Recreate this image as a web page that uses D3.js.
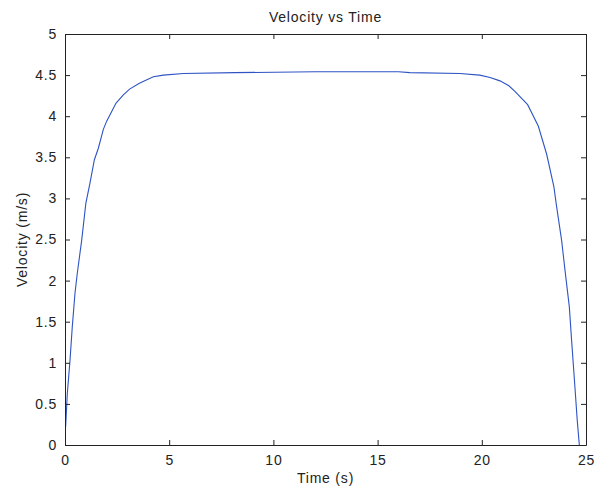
<!DOCTYPE html>
<html><head><meta charset="utf-8">
<script src="https://cdn.jsdelivr.net/npm/d3@7"></script>
<style>body{margin:0;background:#fff;} text{font-family:"Liberation Sans",Arial,sans-serif;fill:#222;}</style>
</head><body><svg id="c" width="596" height="492"></svg>
<script>
const title = "Velocity vs Time";
const xLabel = "Time (s)";
const yLabel = "Velocity (m/s)";
const xTicks = [0,5,10,15,20,25];
const yTicks = [0,0.5,1,1.5,2,2.5,3,3.5,4,4.5,5];
const time = [0.03,0.11,0.24,0.35,0.48,0.59,0.8,1.0,1.2,1.41,1.6,1.84,2.0,2.45,2.8,3.1,3.57,4.24,4.72,5.68,8.16,12,16,16.55,18.95,19.9,20.4,20.87,21.3,21.6,21.9,22.2,22.71,23.11,23.46,23.59,23.83,23.99,24.2,24.31,24.47,24.58,24.68];
const velocity = [0.22,0.62,1.03,1.44,1.85,2.09,2.49,2.94,3.19,3.47,3.61,3.84,3.94,4.16,4.26,4.33,4.40,4.48,4.50,4.52,4.53,4.54,4.54,4.53,4.52,4.50,4.47,4.43,4.37,4.30,4.22,4.14,3.88,3.54,3.14,2.90,2.49,2.13,1.68,1.27,0.70,0.30,0.0];

const svg = d3.select("#c");
const L=65, R=586, T=34, B=445;
const x = d3.scaleLinear().domain([0,25]).range([L,R]);
const y = d3.scaleLinear().domain([0,5]).range([B,T]);

svg.append("rect").attr("x",L).attr("y",T).attr("width",R-L).attr("height",B-T).attr("fill","#fff");

const data = time.map((t,i)=>[t,velocity[i]]);
svg.append("path").datum(data)
  .attr("fill","none").attr("stroke","#2e54c4").attr("stroke-width",1.1)
  .attr("d", d3.line().x(d=>x(d[0])).y(d=>y(d[1])));

const fs = "14px";
const axB = d3.axisBottom(x).tickValues(xTicks).tickSizeInner(-5).tickSizeOuter(0).tickPadding(10).tickFormat(d3.format("~g"));
const axT = d3.axisTop(x).tickValues(xTicks).tickSizeInner(-5).tickSizeOuter(0).tickFormat("");
const axL = d3.axisLeft(y).tickValues(yTicks).tickSizeInner(-5).tickSizeOuter(0).tickPadding(8).tickFormat(d3.format("~g"));
const axR = d3.axisRight(y).tickValues(yTicks).tickSizeInner(-5).tickSizeOuter(0).tickFormat("");

function style(g){
  g.selectAll("path.domain").attr("stroke","#222");
  g.selectAll(".tick line").attr("stroke","#222");
  g.selectAll("text").attr("font-size",fs).attr("letter-spacing","0.8px").attr("font-family","Liberation Sans, Arial, sans-serif").attr("fill","#222");
}
svg.append("g").attr("transform",`translate(0,${B})`).call(axB).call(style);
svg.append("g").attr("transform",`translate(0,${T})`).call(axT).call(style);
svg.append("g").attr("transform",`translate(${L},0)`).call(axL).call(style);
svg.append("g").attr("transform",`translate(${R},0)`).call(axR).call(style);

svg.append("text").attr("x",(L+R)/2).attr("y",22).attr("text-anchor","middle").attr("font-size","14px").attr("letter-spacing","0.8px").text(title);
svg.append("text").attr("x",(L+R)/2).attr("y",483).attr("text-anchor","middle").attr("font-size","14px").attr("letter-spacing","0.8px").text(xLabel);
svg.append("text").attr("transform",`translate(27,${(T+B)/2}) rotate(-90)`).attr("text-anchor","middle").attr("font-size","14px").attr("letter-spacing","0.8px").text(yLabel);
</script></body></html>
